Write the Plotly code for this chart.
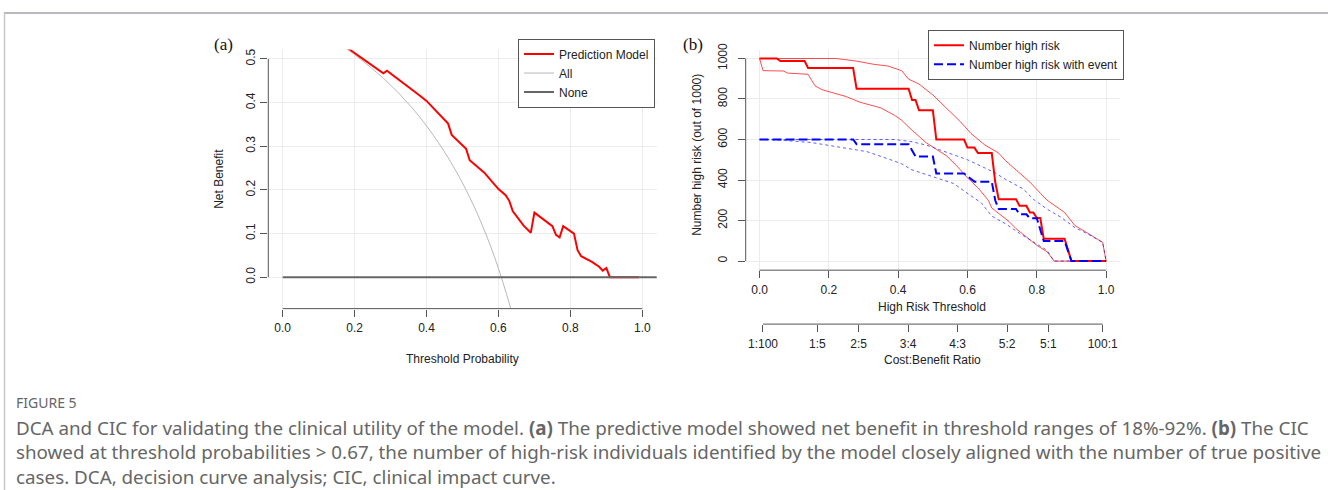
import plotly.graph_objects as go

# ---------------- Panel (a): decision curve ----------------
dca_threshold = [0.17, 0.19, 0.22, 0.25, 0.28, 0.29, 0.32, 0.35, 0.38, 0.40, 0.43, 0.46, 0.47,
                 0.51, 0.52, 0.56, 0.60, 0.62, 0.63, 0.64, 0.67, 0.69, 0.70, 0.75, 0.76, 0.77,
                 0.78, 0.81, 0.82, 0.83, 0.86, 0.88, 0.89, 0.90, 0.91, 0.99]
dca_model = [0.532, 0.519, 0.502, 0.485, 0.467, 0.473, 0.455, 0.436, 0.417, 0.404, 0.379, 0.352, 0.326,
             0.294, 0.268, 0.240, 0.202, 0.188, 0.175, 0.151, 0.118, 0.102, 0.148, 0.117, 0.097, 0.091,
             0.117, 0.100, 0.062, 0.048, 0.035, 0.024, 0.015, 0.021, 0.000, 0.000]

all_threshold = [0.16, 0.18, 0.20, 0.22, 0.24, 0.26, 0.28, 0.30, 0.32, 0.34, 0.36, 0.38, 0.40,
                 0.42, 0.44, 0.46, 0.48, 0.50, 0.52, 0.54, 0.56, 0.58, 0.60, 0.62, 0.64]
all_net_benefit = [0.533, 0.522, 0.510, 0.497, 0.484, 0.470, 0.456, 0.440, 0.424, 0.406, 0.388, 0.368, 0.347,
                   0.324, 0.300, 0.274, 0.246, 0.216, 0.183, 0.148, 0.109, 0.067, 0.020, -0.032, -0.089]

none_threshold = [0.0, 1.05]
none_net_benefit = [0.0, 0.0]

# ---------------- Panel (b): clinical impact curve ----------------
hr_threshold = [0.00, 0.05, 0.06, 0.13, 0.14, 0.27, 0.28, 0.43, 0.44, 0.45, 0.46, 0.50, 0.51, 0.59,
                0.60, 0.62, 0.63, 0.67, 0.68, 0.69, 0.74, 0.75, 0.77, 0.78, 0.79, 0.80, 0.81, 0.82,
                0.88, 0.90, 1.00]
hr_count = [1000, 1000, 987, 987, 953, 953, 851, 851, 795, 795, 745, 745, 600, 600,
            560, 560, 533, 533, 390, 305, 305, 273, 273, 240, 240, 212, 212, 110,
            110, 0, 0]

hr_up_threshold = [0.00, 0.22, 0.28, 0.33, 0.37, 0.41, 0.43, 0.46, 0.50, 0.54, 0.58, 0.61, 0.65,
                   0.69, 0.71, 0.74, 0.78, 0.81, 0.83, 0.88, 0.91, 0.94, 0.99, 1.00]
hr_up = [1000, 1000, 987, 971, 963, 940, 898, 874, 820, 752, 687, 630, 573,
         533, 495, 450, 390, 335, 300, 240, 175, 145, 92, 0]

hr_lo_threshold = [0.00, 0.01, 0.07, 0.08, 0.14, 0.16, 0.18, 0.25, 0.29, 0.35, 0.39, 0.41, 0.44,
                   0.48, 0.51, 0.54, 0.57, 0.60, 0.63, 0.66, 0.67, 0.69, 0.72, 0.74, 0.77, 0.80,
                   0.83, 0.85, 1.00]
hr_lo = [1000, 940, 938, 928, 922, 865, 846, 812, 784, 756, 719, 695, 646,
         585, 552, 519, 468, 411, 362, 300, 262, 235, 195, 160, 118, 78,
         45, 0, 0]

ev_threshold = [0.00, 0.27, 0.28, 0.43, 0.45, 0.50, 0.51, 0.59, 0.62, 0.67, 0.68, 0.69, 0.74,
                0.75, 0.77, 0.78, 0.80, 0.82, 0.88, 0.90, 1.00]
ev_count = [600, 600, 577, 577, 516, 516, 432, 432, 392, 392, 300, 257, 257,
            231, 231, 211, 211, 99, 99, 0, 0]

ev_up_threshold = [0.00, 0.39, 0.44, 0.48, 0.52, 0.56, 0.60, 0.64, 0.68, 0.71, 0.76, 0.79, 0.83,
                   0.87, 0.91, 0.94, 0.99, 1.00]
ev_up = [600, 600, 589, 573, 549, 524, 500, 468, 435, 403, 357, 305, 256,
         216, 165, 140, 92, 0]

ev_lo_threshold = [0.00, 0.06, 0.15, 0.23, 0.31, 0.37, 0.41, 0.44, 0.48, 0.51, 0.56, 0.60, 0.64,
                   0.67, 0.71, 0.75, 0.79, 0.83, 0.85, 1.00]
ev_lo = [600, 597, 585, 563, 540, 505, 480, 450, 428, 408, 383, 334, 287,
         222, 184, 137, 95, 52, 0, 0]

# Cost:benefit axis
cb_thresholds = [1 / 101, 1 / 6, 2 / 7, 3 / 7, 4 / 7, 5 / 7, 5 / 6, 100 / 101]
cb_labels = ["1:100", "1:5", "2:5", "3:4", "4:3", "5:2", "5:1", "100:1"]

# Caption
caption_head = "FIGURE 5"
caption_lines = [
    "DCA and CIC for validating the clinical utility of the model. <b>(a)</b> The predictive model showed net benefit in threshold ranges of 18%-92%. <b>(b)</b> The CIC",
    "showed at threshold probabilities &gt; 0.67, the number of high-risk individuals identified by the model closely aligned with the number of true positive",
    "cases. DCA, decision curve analysis; CIC, clinical impact curve.",
]

W, H = 1328, 490
FONT = "Liberation Sans, Arial, sans-serif"
AX = "#555555"
GRID = "#ececec"
TXT = "#222222"


def px(x):
    return x / W


def py(y):
    return (H - y) / H


xa_dom = [px(268.3), px(656.7)]
ya_dom = [py(306), py(43)]
xb_dom = [px(745.7), px(1120)]
yb_dom = [py(267), py(44)]
cb_pos = py(321.7)

fig = go.Figure()

# Panel (a)
fig.add_trace(go.Scatter(x=dca_threshold, y=dca_model, mode="lines", name="Prediction Model",
                         line=dict(color="#ff0000", width=2), xaxis="x", yaxis="y", legend="legend"))
fig.add_trace(go.Scatter(x=all_threshold, y=all_net_benefit, mode="lines", name="All",
                         line=dict(color="#b8b8b8", width=1, shape="spline"), xaxis="x", yaxis="y",
                         legend="legend"))
fig.add_trace(go.Scatter(x=none_threshold, y=none_net_benefit, mode="lines", name="None",
                         line=dict(color="#666666", width=2), xaxis="x", yaxis="y", legend="legend"))

# Panel (b)
fig.add_trace(go.Scatter(x=hr_up_threshold, y=hr_up, mode="lines", showlegend=False,
                         line=dict(color="rgba(255,0,0,0.7)", width=1), xaxis="x2", yaxis="y2"))
fig.add_trace(go.Scatter(x=hr_lo_threshold, y=hr_lo, mode="lines", showlegend=False,
                         line=dict(color="rgba(255,0,0,0.7)", width=1), xaxis="x2", yaxis="y2"))
fig.add_trace(go.Scatter(x=ev_up_threshold, y=ev_up, mode="lines", showlegend=False,
                         line=dict(color="rgba(40,40,255,0.75)", width=1, dash="3px,3px"),
                         xaxis="x2", yaxis="y2"))
fig.add_trace(go.Scatter(x=ev_lo_threshold, y=ev_lo, mode="lines", showlegend=False,
                         line=dict(color="rgba(40,40,255,0.75)", width=1, dash="3px,3px"),
                         xaxis="x2", yaxis="y2"))
fig.add_trace(go.Scatter(x=hr_threshold, y=hr_count, mode="lines", name="Number high risk",
                         line=dict(color="#ff0000", width=2), xaxis="x2", yaxis="y2", legend="legend2"))
fig.add_trace(go.Scatter(x=ev_threshold, y=ev_count, mode="lines", name="Number high risk with event",
                         line=dict(color="#0000ff", width=2, dash="9px,4px"), xaxis="x2", yaxis="y2",
                         legend="legend2"))
# carrier for the cost:benefit axis
fig.add_trace(go.Scatter(x=cb_thresholds, y=[None] * len(cb_thresholds), mode="lines",
                         showlegend=False, hoverinfo="skip", xaxis="x3", yaxis="y2"))

tickfont = dict(family=FONT, size=12, color=TXT)
common_x = dict(showline=False, zeroline=False, ticks="outside", ticklen=7, tickcolor=AX,
                tickwidth=1, tickfont=tickfont, showgrid=True, gridcolor=GRID, gridwidth=1,
                ticklabelstandoff=1)
common_y = dict(showline=False, zeroline=False, ticks="outside", ticklen=7, tickcolor=AX,
                tickwidth=1, tickfont=tickfont, showgrid=True, gridcolor=GRID, gridwidth=1,
                tickangle=-90)

fig.update_layout(
    width=W, height=H,
    margin=dict(l=0, r=0, t=0, b=0),
    paper_bgcolor="white", plot_bgcolor="white",
    font=dict(family=FONT, size=12, color=TXT),
    xaxis=dict(domain=xa_dom, range=[-0.04, 1.04], anchor="y", tick0=0, dtick=0.2,
               tickformat=".1f", **common_x),
    yaxis=dict(domain=ya_dom, range=[-0.072, 0.522], anchor="x", tick0=0, dtick=0.1,
               tickformat=".1f", ticklabelstandoff=1, **common_y),
    xaxis2=dict(domain=xb_dom, range=[-0.04, 1.04], anchor="y2", tick0=0, dtick=0.2,
                tickformat=".1f", **common_x),
    yaxis2=dict(domain=yb_dom, range=[-45, 1040], anchor="x2", tick0=0, dtick=200,
                ticklabelstandoff=6, **common_y),
    xaxis3=dict(overlaying="x2", anchor="free", position=cb_pos, side="bottom",
                range=[-0.04, 1.04], tickvals=cb_thresholds, ticktext=cb_labels,
                showline=False, zeroline=False, showgrid=False, ticks="outside", ticklen=7,
                tickcolor=AX, tickwidth=1, tickfont=tickfont, ticklabelstandoff=1),
    legend=dict(x=px(518), y=py(32), xanchor="left", yanchor="top",
                bordercolor="#555555", borderwidth=1, bgcolor="white",
                font=dict(family=FONT, size=12, color=TXT), itemwidth=30,
                tracegroupgap=0),
    legend2=dict(x=px(928), y=py(23), xanchor="left", yanchor="top",
                 bordercolor="#555555", borderwidth=1, bgcolor="white",
                 font=dict(family=FONT, size=12, color=TXT), itemwidth=30,
                 tracegroupgap=0),
    showlegend=True,
)

shape_line = dict(color=AX, width=1)
shapes = [
    # panel (a) axes
    dict(type="line", xref="x", yref="paper", x0=0, x1=1, y0=ya_dom[0], y1=ya_dom[0], line=shape_line),
    dict(type="line", xref="paper", yref="y", x0=xa_dom[0], x1=xa_dom[0], y0=0, y1=0.5, line=shape_line),
    # panel (b) axes
    dict(type="line", xref="x2", yref="paper", x0=0, x1=1, y0=yb_dom[0], y1=yb_dom[0], line=shape_line),
    dict(type="line", xref="paper", yref="y2", x0=xb_dom[0], x1=xb_dom[0], y0=0, y1=1000, line=shape_line),
    dict(type="line", xref="x2", yref="paper", x0=cb_thresholds[0], x1=cb_thresholds[-1],
         y0=cb_pos, y1=cb_pos, line=shape_line),
    # page frame
    dict(type="line", xref="paper", yref="paper", x0=px(4), x1=1, y0=py(6), y1=py(6),
         line=dict(color="#a0a0a8", width=1.5)),
    dict(type="line", xref="paper", yref="paper", x0=px(4.5), x1=px(4.5), y0=py(6), y1=0,
         line=dict(color="#c8c8cc", width=1.5)),
]
fig.update_layout(shapes=shapes)

ann = []


def add_text(text, x, y, size=12, angle=0, family=FONT, color=TXT, xanchor="center", align="center"):
    ann.append(dict(text=text, x=px(x), y=py(y), xref="paper", yref="paper", showarrow=False,
                    xanchor=xanchor, yanchor="middle", textangle=angle, align=align,
                    font=dict(family=family, size=size, color=color)))


add_text("(a)", 223, 38, size=17, family="Liberation Serif, Times New Roman, serif", color="#111")
add_text("(b)", 693, 38, size=17, family="Liberation Serif, Times New Roman, serif", color="#111")
add_text("Net Benefit", 218.3, 174, angle=-90)
add_text("Threshold Probability", 462.3, 356.7)
add_text("Number high risk (out of 1000)", 697, 150, angle=-90)
add_text("High Risk Threshold", 932.3, 304.3)
add_text("Cost:Benefit Ratio", 932.3, 358.3)

CAP_FONT = "Noto Sans, Lato, sans-serif"
add_text(caption_head, 14, 401, size=14, family=CAP_FONT, color="#666666", xanchor="left")
add_text("<br>".join(caption_lines), 14, 451.5, size=18.8, family=CAP_FONT, color="#666666",
         xanchor="left", align="left")

fig.update_layout(annotations=ann)

fig.write_html("out.html", post_script="document.body.style.margin='0';",
               config={"displayModeBar": False})
